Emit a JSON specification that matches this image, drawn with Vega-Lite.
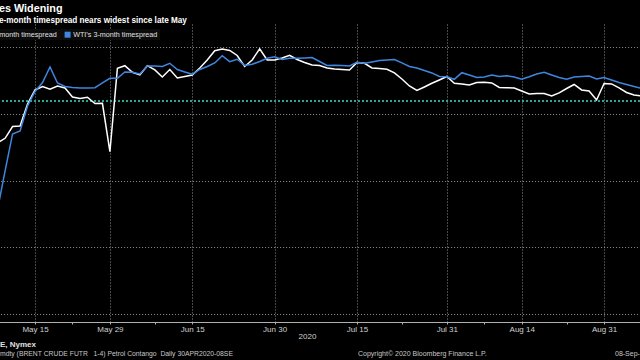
{
  "$schema": "https://vega.github.io/schema/vega-lite/v6.json",
  "width": 640,
  "height": 298,
  "autosize": {"type": "none"},
  "padding": {"left": 0, "top": 24, "right": 0, "bottom": 38},
  "background": "#000000",
  "config": {
    "view": {"stroke": null},
    "font": "Liberation Sans"
  },
  "title": {
    "text": "es Widening",
    "subtitle": "e-month timespread nears widest since late May",
    "anchor": "start",
    "frame": "group",
    "dx": -1,
    "offset": 0,
    "color": "#ffffff",
    "fontSize": 10.8,
    "fontWeight": "bold",
    "subtitleColor": "#ffffff",
    "subtitleFontSize": 8.2,
    "subtitleFontWeight": "bold",
    "subtitlePadding": 3
  },
  "data": {
    "values": [
      {"date": "2020-05-08", "brent": -1.435, "wti": -2.425},
      {"date": "2020-05-11", "brent": -1.365, "wti": -1.855},
      {"date": "2020-05-12", "brent": -1.188, "wti": -1.300},
      {"date": "2020-05-13", "brent": -1.180, "wti": -1.255},
      {"date": "2020-05-14", "brent": -0.850, "wti": -0.880},
      {"date": "2020-05-15", "brent": -0.640, "wti": -0.663},
      {"date": "2020-05-18", "brent": -0.588, "wti": -0.528},
      {"date": "2020-05-19", "brent": -0.630, "wti": -0.295},
      {"date": "2020-05-20", "brent": -0.580, "wti": -0.535},
      {"date": "2020-05-21", "brent": -0.610, "wti": -0.588},
      {"date": "2020-05-22", "brent": -0.745, "wti": -0.603},
      {"date": "2020-05-25", "brent": -0.768, "wti": -0.610},
      {"date": "2020-05-26", "brent": -0.750, "wti": -0.610},
      {"date": "2020-05-27", "brent": -0.843, "wti": -0.607},
      {"date": "2020-05-28", "brent": -0.840, "wti": -0.535},
      {"date": "2020-05-29", "brent": -1.566, "wti": -0.465},
      {"date": "2020-06-01", "brent": -0.315, "wti": -0.465},
      {"date": "2020-06-02", "brent": -0.276, "wti": -0.370},
      {"date": "2020-06-03", "brent": -0.375, "wti": -0.375},
      {"date": "2020-06-04", "brent": -0.415, "wti": -0.400},
      {"date": "2020-06-05", "brent": -0.276, "wti": -0.280},
      {"date": "2020-06-08", "brent": -0.340, "wti": -0.280},
      {"date": "2020-06-09", "brent": -0.445, "wti": -0.288},
      {"date": "2020-06-10", "brent": -0.333, "wti": -0.240},
      {"date": "2020-06-11", "brent": -0.460, "wti": -0.333},
      {"date": "2020-06-12", "brent": -0.438, "wti": -0.370},
      {"date": "2020-06-15", "brent": -0.415, "wti": -0.405},
      {"date": "2020-06-16", "brent": -0.310, "wti": -0.333},
      {"date": "2020-06-17", "brent": -0.190, "wti": -0.288},
      {"date": "2020-06-18", "brent": -0.051, "wti": -0.235},
      {"date": "2020-06-19", "brent": -0.025, "wti": -0.126},
      {"date": "2020-06-22", "brent": -0.048, "wti": -0.216},
      {"date": "2020-06-23", "brent": -0.123, "wti": -0.180},
      {"date": "2020-06-24", "brent": -0.288, "wti": -0.273},
      {"date": "2020-06-25", "brent": -0.190, "wti": -0.255},
      {"date": "2020-06-26", "brent": -0.025, "wti": -0.213},
      {"date": "2020-06-29", "brent": -0.190, "wti": -0.165},
      {"date": "2020-06-30", "brent": -0.190, "wti": -0.141},
      {"date": "2020-07-01", "brent": -0.160, "wti": -0.183},
      {"date": "2020-07-02", "brent": -0.120, "wti": -0.165},
      {"date": "2020-07-03", "brent": -0.183, "wti": -0.165},
      {"date": "2020-07-06", "brent": -0.228, "wti": -0.160},
      {"date": "2020-07-07", "brent": -0.265, "wti": -0.153},
      {"date": "2020-07-08", "brent": -0.273, "wti": -0.213},
      {"date": "2020-07-09", "brent": -0.310, "wti": -0.273},
      {"date": "2020-07-10", "brent": -0.325, "wti": -0.268},
      {"date": "2020-07-13", "brent": -0.333, "wti": -0.273},
      {"date": "2020-07-14", "brent": -0.340, "wti": -0.280},
      {"date": "2020-07-15", "brent": -0.228, "wti": -0.225},
      {"date": "2020-07-16", "brent": -0.240, "wti": -0.240},
      {"date": "2020-07-17", "brent": -0.310, "wti": -0.220},
      {"date": "2020-07-20", "brent": -0.318, "wti": -0.198},
      {"date": "2020-07-21", "brent": -0.330, "wti": -0.190},
      {"date": "2020-07-22", "brent": -0.385, "wti": -0.183},
      {"date": "2020-07-23", "brent": -0.475, "wti": -0.235},
      {"date": "2020-07-24", "brent": -0.580, "wti": -0.288},
      {"date": "2020-07-27", "brent": -0.648, "wti": -0.310},
      {"date": "2020-07-28", "brent": -0.595, "wti": -0.348},
      {"date": "2020-07-29", "brent": -0.540, "wti": -0.385},
      {"date": "2020-07-30", "brent": -0.490, "wti": -0.438},
      {"date": "2020-07-31", "brent": -0.438, "wti": -0.441},
      {"date": "2020-08-03", "brent": -0.540, "wti": -0.480},
      {"date": "2020-08-04", "brent": -0.550, "wti": -0.381},
      {"date": "2020-08-05", "brent": -0.565, "wti": -0.415},
      {"date": "2020-08-06", "brent": -0.528, "wti": -0.453},
      {"date": "2020-08-07", "brent": -0.525, "wti": -0.445},
      {"date": "2020-08-10", "brent": -0.535, "wti": -0.415},
      {"date": "2020-08-11", "brent": -0.603, "wti": -0.438},
      {"date": "2020-08-12", "brent": -0.606, "wti": -0.427},
      {"date": "2020-08-13", "brent": -0.610, "wti": -0.445},
      {"date": "2020-08-14", "brent": -0.655, "wti": -0.480},
      {"date": "2020-08-17", "brent": -0.700, "wti": -0.442},
      {"date": "2020-08-18", "brent": -0.693, "wti": -0.400},
      {"date": "2020-08-19", "brent": -0.693, "wti": -0.375},
      {"date": "2020-08-20", "brent": -0.730, "wti": -0.415},
      {"date": "2020-08-21", "brent": -0.685, "wti": -0.453},
      {"date": "2020-08-24", "brent": -0.618, "wti": -0.480},
      {"date": "2020-08-25", "brent": -0.558, "wti": -0.445},
      {"date": "2020-08-26", "brent": -0.640, "wti": -0.438},
      {"date": "2020-08-27", "brent": -0.655, "wti": -0.430},
      {"date": "2020-08-28", "brent": -0.790, "wti": -0.475},
      {"date": "2020-08-31", "brent": -0.543, "wti": -0.453},
      {"date": "2020-09-01", "brent": -0.550, "wti": -0.490},
      {"date": "2020-09-02", "brent": -0.610, "wti": -0.528},
      {"date": "2020-09-03", "brent": -0.678, "wti": -0.558},
      {"date": "2020-09-04", "brent": -0.715, "wti": -0.588},
      {"date": "2020-09-07", "brent": -0.730, "wti": -0.618},
      {"date": "2020-09-08", "brent": -0.738, "wti": -0.625}
    ]
  },
  "layer": [
    {
      "mark": {"type": "rule", "color": "#2aa894", "strokeWidth": 1.5, "strokeDash": [2, 2]},
      "encoding": {"y": {"datum": -0.805, "type": "quantitative", "scale": {"domain": [-4.12, 0.349], "nice": false, "zero": false}}}
    },
    {
      "transform": [{"fold": ["brent", "wti"], "as": ["series", "value"]}],
      "mark": {"type": "line", "strokeWidth": 1.5, "clip": true, "interpolate": "linear"},
      "encoding": {
        "x": {
          "field": "date",
          "type": "ordinal",
          "scale": {"type": "point", "padding": 0, "range": [-2.4, 649]},
          "axis": {
            "title": "2020",
            "titleX": 307,
            "titleY": 14,
            "titleAlign": "center",
            "titleBaseline": "middle",
            "titleFontSize": 8,
            "titleFontWeight": "normal",
            "titleColor": "#d0d0d0",
            "values": ["2020-05-15", "2020-05-22", "2020-05-29", "2020-06-08", "2020-06-15", "2020-06-30", "2020-07-15", "2020-07-23", "2020-07-31", "2020-08-07", "2020-08-14", "2020-08-24", "2020-08-31"],
            "labelExpr": "indexof(['2020-05-22','2020-06-08','2020-07-23','2020-08-07','2020-08-24'], datum.value) >= 0 ? '' : utcFormat(toDate(datum.value), '%b %d')",
            "labelAngle": 0,
            "labelFontSize": 8,
            "labelColor": "#d0d0d0",
            "labelPadding": 1,
            "labelOverlap": false,
            "domainColor": "#b0b0b0",
            "domainWidth": 1,
            "tickColor": "#b0b0b0",
            "tickSize": 2,
            "grid": true,
            "gridColor": "#909090",
            "gridDash": [1, 2],
            "gridWidth": 1,
            "gridOpacity": {"condition": {"test": "indexof(['2020-05-22','2020-06-08','2020-07-23','2020-08-07','2020-08-24'], datum.value) >= 0", "value": 0}, "value": 1}
          }
        },
        "y": {
          "field": "value",
          "type": "quantitative",
          "scale": {"domain": [-4.12, 0.349], "nice": false, "zero": false},
          "axis": {
            "title": null,
            "labels": false,
            "ticks": false,
            "domain": false,
            "values": [-4, -3.5, -3, -2.5, -2, -1.5, -1, -0.5, 0],
            "grid": true,
            "gridColor": "#909090",
            "gridDash": [1, 2],
            "gridWidth": 1
          }
        },
        "color": {
          "field": "series",
          "type": "nominal",
          "scale": {"domain": ["brent", "wti"], "range": ["#ffffff", "#3f86e0"]},
          "legend": {
            "orient": "none",
            "legendX": -12,
            "legendY": 5,
            "direction": "horizontal",
            "title": null,
            "symbolType": "square",
            "symbolSize": 36,
            "symbolStrokeWidth": 0,
            "labelFontSize": 7.2,
            "labelColor": "#e0e0e0",
            "labelOffset": 2,
            "columnPadding": 7,
            "padding": 2,
            "fillColor": "#0c0c0c",
            "labelExpr": "datum.label == 'brent' ? 'month timespread' : 'WTI\u2019s 3-month timespread'",
            "encode": {"symbols": {"update": {"fill": {"scale": "color", "field": "value"}, "fillOpacity": {"value": 1}}}}
          }
        }
      }
    },
    {
      "data": {"values": [{}]},
      "mark": {"type": "text", "text": "E, Nymex", "align": "left", "baseline": "middle", "fontSize": 8, "fontWeight": "bold", "color": "#e0e0e0"},
      "encoding": {"x": {"value": 0}, "y": {"value": 321}}
    },
    {
      "data": {"values": [{}]},
      "mark": {"type": "text", "text": "mdty (BRENT CRUDE FUTR\u00a0\u00a0\u00a01-4) Petrol Contango\u00a0 Daily 30APR2020-08SE", "align": "left", "baseline": "middle", "fontSize": 6.8, "color": "#c8c8c8"},
      "encoding": {"x": {"value": 0}, "y": {"value": 330}}
    },
    {
      "data": {"values": [{}]},
      "mark": {"type": "text", "text": "Copyright\u00a9 2020 Bloomberg Finance L.P.", "align": "left", "baseline": "middle", "fontSize": 7, "color": "#c8c8c8"},
      "encoding": {"x": {"value": 358}, "y": {"value": 330}}
    },
    {
      "data": {"values": [{}]},
      "mark": {"type": "text", "text": "08-Sep-", "align": "left", "baseline": "middle", "fontSize": 7, "color": "#c8c8c8"},
      "encoding": {"x": {"value": 615}, "y": {"value": 330}}
    }
  ]
}
